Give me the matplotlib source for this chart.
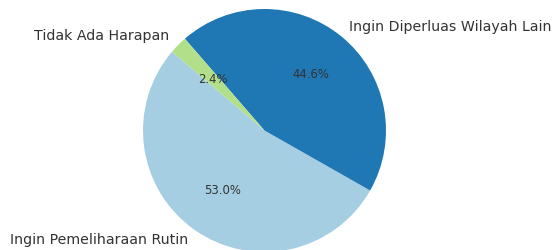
import matplotlib.pyplot as plt

labels = ['Ingin Pemeliharaan Rutin', 'Ingin Diperluas Wilayah Lain', 'Tidak Ada Harapan']
shares = [53.0, 44.6, 2.4]
colors = plt.cm.Paired.colors[:3]

fig = plt.figure(figsize=(5.53, 2.5), dpi=100)
ax = fig.add_axes([0, 0, 1, 1])

wedges, texts, autotexts = ax.pie(
    shares, labels=labels, colors=colors, autopct='%1.1f%%',
    startangle=139.6, textprops={'color': '#333333', 'fontsize': 10.2})
for t in autotexts:
    t.set_fontsize(8.4)

# place pie: centre at (264.5, 130.5) px from top-left, radius 121.5 px
r = 121.5
ax.set_aspect('auto')
ax.set_xlim(-264.5 / r, (553 - 264.5) / r)
ax.set_ylim(-119.5 / r, 130.5 / r)
ax.axis('off')

fig.savefig('out.png', dpi=100)
